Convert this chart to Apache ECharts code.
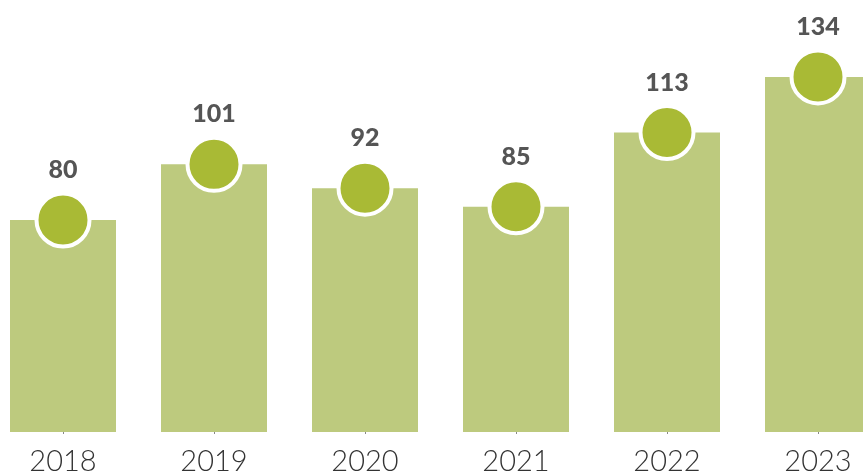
<!DOCTYPE html>
<html>
<head>
<meta charset="utf-8">
<script src="https://cdn.jsdelivr.net/npm/echarts@6/dist/echarts.min.js"></script>
<style>html,body{margin:0;padding:0;background:#fff;}#c{width:863px;height:474px;}</style>
</head>
<body>
<div id="c"></div>
<script>
const years = ['2018', '2019', '2020', '2021', '2022', '2023'];
const values = [80, 101, 92, 85, 113, 134];

const chart = echarts.init(document.getElementById('c'), null, {renderer: 'canvas'});
chart.setOption({
  animation: false,
  grid: {left: -12.5, width: 906, top: 61, bottom: 42, containLabel: false, outerBoundsMode: 'none'},
  xAxis: {
    type: 'category',
    data: years,
    axisLine: {show: false},
    axisTick: {show: true, alignWithLabel: true, length: 2, lineStyle: {color: '#888'}},
    axisLabel: {color: '#333', fontSize: 29, fontFamily: 'Lato', fontWeight: 300, margin: 15}
  },
  yAxis: {
    type: 'value', min: 0, max: 140, interval: 20,
    axisLine: {show: false}, axisTick: {show: false}, axisLabel: {show: false},
    splitLine: {show: false}
  },
  series: [
    {
      type: 'bar', data: values, barWidth: 106,
      itemStyle: {color: '#bdca7e'}, z: 1
    },
    {
      type: 'scatter', data: values, symbol: 'circle', symbolSize: 53,
      itemStyle: {color: '#a9ba35', borderColor: '#ffffff', borderWidth: 4, opacity: 1},
      label: {show: true, position: 'top', distance: 9, color: '#555', fontSize: 25,
        fontWeight: 900, fontFamily: 'Lato'},
      z: 3
    }
  ]
});
</script>
</body>
</html>
